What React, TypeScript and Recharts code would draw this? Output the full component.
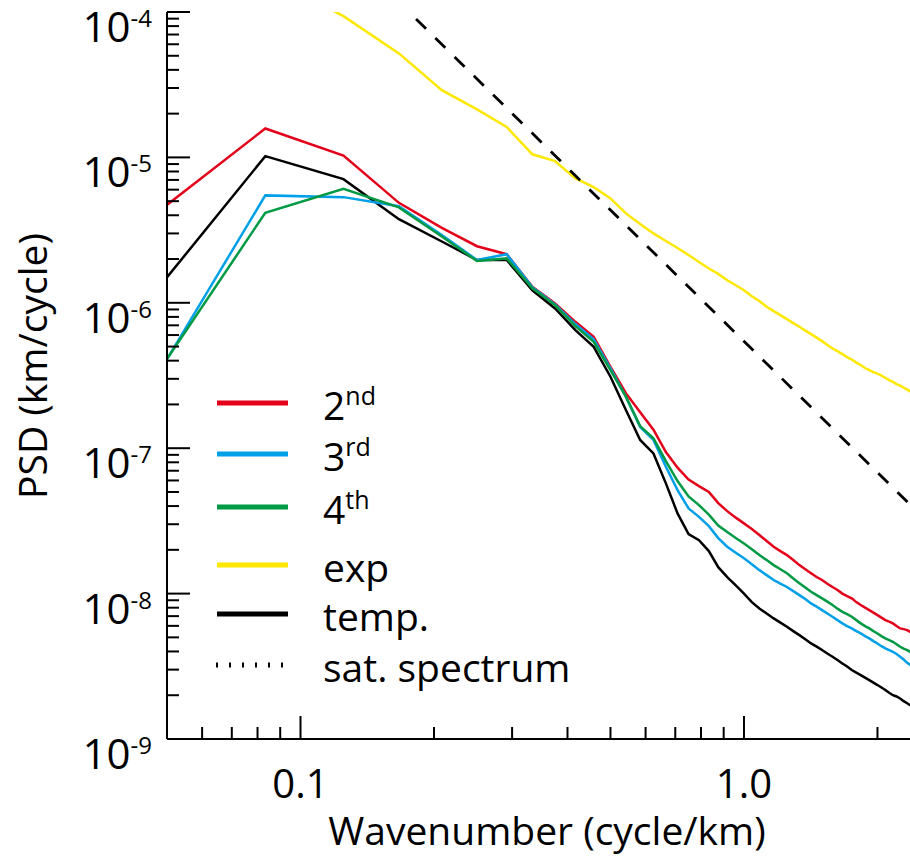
import { Label, Legend, Line, LineChart, XAxis, YAxis } from 'recharts'

// wavenumber grid (cycle/km)
const wavenumber = [
  0.0417, 0.0833, 0.125, 0.1667, 0.2083, 0.25, 0.2917, 0.3333, 0.375, 0.4167,
  0.4583, 0.5, 0.5417, 0.5833, 0.625, 0.6667, 0.7083, 0.75, 0.7917, 0.8333,
  0.875, 0.9167, 0.9583, 1.0, 1.0417, 1.0833, 1.125, 1.1667, 1.2083, 1.25,
  1.2917, 1.3333, 1.375, 1.4167, 1.4583, 1.5, 1.5417, 1.5833, 1.625, 1.6667,
  1.7083, 1.75, 1.7917, 1.8333, 1.875, 1.9167, 1.9583, 2.0, 2.0417, 2.0833,
  2.125, 2.1667, 2.2083, 2.25, 2.2917, 2.3333, 2.375, 2.4167, 2.4583, 2.5,
]

const psd2nd = [
  3.07e-6, 1.58e-5, 1.03e-5, 4.87e-6, 3.28e-6, 2.45e-6, 2.16e-6, 1.29e-6, 9.9e-7, 7.4e-7,
  5.84e-7, 3.63e-7, 2.39e-7, 1.77e-7, 1.34e-7, 9.4e-8, 7.35e-8, 6.08e-8, 5.49e-8, 5.01e-8,
  4.19e-8, 3.69e-8, 3.33e-8, 3.04e-8, 2.78e-8, 2.53e-8, 2.3e-8, 2.1e-8, 1.96e-8, 1.84e-8,
  1.7e-8, 1.57e-8, 1.47e-8, 1.38e-8, 1.3e-8, 1.24e-8, 1.17e-8, 1.11e-8, 1.06e-8, 1.0e-8,
  9.61e-9, 9.27e-9, 8.74e-9, 8.34e-9, 8.01e-9, 7.7e-9, 7.4e-9, 7.11e-9, 6.84e-9, 6.57e-9,
  6.42e-9, 6.24e-9, 5.98e-9, 5.76e-9, 5.7e-9, 5.61e-9, 5.44e-9, 5.26e-9, 5.1e-9, 4.94e-9,
]

const psd3rd = [
  1.63e-7, 5.48e-6, 5.33e-6, 4.62e-6, 2.92e-6, 1.97e-6, 2.16e-6, 1.28e-6, 9.75e-7, 7.14e-7,
  5.6e-7, 3.54e-7, 2.26e-7, 1.4e-7, 1.14e-7, 7.45e-8, 5.15e-8, 3.85e-8, 3.37e-8, 2.91e-8,
  2.41e-8, 2.1e-8, 1.91e-8, 1.75e-8, 1.59e-8, 1.45e-8, 1.34e-8, 1.24e-8, 1.17e-8, 1.11e-8,
  1.04e-8, 9.76e-9, 9.17e-9, 8.56e-9, 8.14e-9, 7.7e-9, 7.29e-9, 6.93e-9, 6.57e-9, 6.24e-9,
  5.98e-9, 5.76e-9, 5.52e-9, 5.32e-9, 5.1e-9, 4.92e-9, 4.71e-9, 4.54e-9, 4.35e-9, 4.2e-9,
  4.09e-9, 3.98e-9, 3.84e-9, 3.68e-9, 3.52e-9, 3.34e-9, 3.22e-9, 3.12e-9, 3.02e-9, 2.93e-9,
]

const psd4th = [
  1.8e-7, 4.16e-6, 6.08e-6, 4.53e-6, 2.86e-6, 1.94e-6, 2.02e-6, 1.26e-6, 9.64e-7, 6.91e-7,
  5.39e-7, 3.44e-7, 2.26e-7, 1.42e-7, 1.17e-7, 8.15e-8, 5.94e-8, 4.66e-8, 4.06e-8, 3.49e-8,
  2.94e-8, 2.65e-8, 2.41e-8, 2.21e-8, 2.02e-8, 1.84e-8, 1.7e-8, 1.57e-8, 1.47e-8, 1.38e-8,
  1.27e-8, 1.18e-8, 1.1e-8, 1.03e-8, 9.76e-9, 9.27e-9, 8.81e-9, 8.34e-9, 7.88e-9, 7.49e-9,
  7.23e-9, 6.93e-9, 6.57e-9, 6.24e-9, 5.98e-9, 5.76e-9, 5.52e-9, 5.32e-9, 5.1e-9, 4.92e-9,
  4.79e-9, 4.66e-9, 4.49e-9, 4.31e-9, 4.18e-9, 4.09e-9, 3.96e-9, 3.84e-9, 3.72e-9, 3.6e-9,
]

const psdExp = [
  3.66e-4, 1.79e-4, 9.37e-5, 5.19e-5, 2.9e-5, 2.14e-5, 1.62e-5, 1.05e-5, 9.43e-6, 7.17e-6,
  6.25e-6, 5.22e-6, 4.12e-6, 3.48e-6, 3.0e-6, 2.66e-6, 2.38e-6, 2.13e-6, 1.91e-6, 1.72e-6,
  1.58e-6, 1.43e-6, 1.32e-6, 1.22e-6, 1.11e-6, 1.03e-6, 9.39e-7, 8.77e-7, 8.23e-7, 7.72e-7,
  7.25e-7, 6.84e-7, 6.44e-7, 6.09e-7, 5.76e-7, 5.45e-7, 5.12e-7, 4.86e-7, 4.65e-7, 4.44e-7,
  4.23e-7, 4.07e-7, 3.88e-7, 3.73e-7, 3.56e-7, 3.44e-7, 3.34e-7, 3.26e-7, 3.16e-7, 3.05e-7,
  2.94e-7, 2.86e-7, 2.76e-7, 2.69e-7, 2.61e-7, 2.53e-7, 2.45e-7, 2.39e-7, 2.32e-7, 2.25e-7,
]

const psdTemp = [
  7.57e-7, 1.02e-5, 7.09e-6, 3.76e-6, 2.64e-6, 1.97e-6, 1.97e-6, 1.22e-6, 9.15e-7, 6.49e-7,
  4.98e-7, 3.1e-7, 1.83e-7, 1.14e-7, 9.21e-8, 5.73e-8, 3.56e-8, 2.57e-8, 2.33e-8, 1.96e-8,
  1.52e-8, 1.3e-8, 1.14e-8, 1.0e-8, 8.74e-9, 7.91e-9, 7.29e-9, 6.75e-9, 6.32e-9, 5.91e-9,
  5.52e-9, 5.18e-9, 4.86e-9, 4.54e-9, 4.32e-9, 4.09e-9, 3.87e-9, 3.68e-9, 3.49e-9, 3.31e-9,
  3.15e-9, 2.98e-9, 2.86e-9, 2.75e-9, 2.64e-9, 2.54e-9, 2.44e-9, 2.35e-9, 2.26e-9, 2.17e-9,
  2.08e-9, 2.0e-9, 1.96e-9, 1.9e-9, 1.82e-9, 1.76e-9, 1.7e-9, 1.64e-9, 1.59e-9, 1.54e-9,
]

// saturation spectrum (k^-3 reference line), two end points
const satWavenumber = [0.1, 2.6]
const satPsd = [5.4e-4, 3.1e-8]

const xMajorTicks = [0.1, 1]
const xTickLabels = ['0.1', '1.0']
const xMinorTicks = [0.06, 0.07, 0.08, 0.09, 0.2, 0.3, 0.4, 0.5, 0.6, 0.7, 0.8, 0.9, 2]
const yMajorTicks = [1e-9, 1e-8, 1e-7, 1e-6, 1e-5, 1e-4]
const yMinorMantissas = [2, 3, 4, 5, 6, 7, 8, 9]

const legendItems = [
  { base: '2', sup: 'nd', color: '#e3001b', dotted: false },
  { base: '3', sup: 'rd', color: '#00a0e9', dotted: false },
  { base: '4', sup: 'th', color: '#009a44', dotted: false },
  { base: 'exp', sup: '', color: '#ffe800', dotted: false },
  { base: 'temp.', sup: '', color: '#000000', dotted: false },
  { base: 'sat. spectrum', sup: '', color: '#000000', dotted: true },
]
const legendRows = [33, 84, 137, 195, 244, 295]

const FONT = "'Open Sans', 'DejaVu Sans', sans-serif"
const MAJOR_LEN = 23
const MINOR_LEN = 12

const rows = wavenumber.map((k, i) => ({
  k,
  second: psd2nd[i],
  third: psd3rd[i],
  fourth: psd4th[i],
  exp: psdExp[i],
  temp: psdTemp[i],
}))
const satRows = satWavenumber.map((k, i) => ({ k, sat: satPsd[i] }))

const xTicks = [...xMinorTicks, ...xMajorTicks].sort((a, b) => a - b)
const yTicks = [
  ...yMajorTicks,
  ...yMajorTicks.slice(0, -1).flatMap((d) => yMinorMantissas.map((m) => m * d)),
].sort((a, b) => a - b)

function isMajor(value: number): boolean {
  const l = Math.log10(value)
  return Math.abs(l - Math.round(l)) < 1e-6
}

type TickProps = { x: number; y: number; payload: { value: number } }

function BottomTick({ x, y, payload }: TickProps) {
  const major = isMajor(payload.value)
  const idx = xMajorTicks.findIndex((t) => Math.abs(t - payload.value) < 1e-9)
  return (
    <g>
      <line x1={x} x2={x} y1={y} y2={y - (major ? MAJOR_LEN : MINOR_LEN)} stroke="#000" strokeWidth={2} />
      {major && idx >= 0 ? (
        <text x={x} y={y + 59} textAnchor="middle" fontSize={40} fontFamily={FONT} fill="#000">
          {xTickLabels[idx]}
        </text>
      ) : null}
    </g>
  )
}

function TopTick({ x, y, payload }: TickProps) {
  const major = isMajor(payload.value)
  return <line x1={x} x2={x} y1={y} y2={y + (major ? MAJOR_LEN : MINOR_LEN)} stroke="#000" strokeWidth={2} />
}

function LeftTick({ x, y, payload }: TickProps) {
  const major = isMajor(payload.value)
  const exponent = Math.round(Math.log10(payload.value))
  return (
    <g>
      <line x1={x} x2={x + (major ? MAJOR_LEN : MINOR_LEN)} y1={y} y2={y} stroke="#000" strokeWidth={2} />
      {major ? (
        <text x={x - 15} y={y + 30} textAnchor="end" fontSize={42} fontFamily={FONT} fill="#000">
          10
          <tspan fontSize={24} dy={-15}>
            {exponent}
          </tspan>
        </text>
      ) : null}
    </g>
  )
}

function RightTick({ x, y, payload }: TickProps) {
  const major = isMajor(payload.value)
  return <line x1={x} x2={x - (major ? MAJOR_LEN : MINOR_LEN)} y1={y} y2={y} stroke="#000" strokeWidth={2} />
}

function XTitle() {
  return (
    <text x={547} y={845} textAnchor="middle" fontSize={39} fontFamily={FONT} fill="#000">
      Wavenumber (cycle/km)
    </text>
  )
}

function YTitle() {
  return (
    <text
      x={47}
      y={366}
      transform="rotate(-90 47 366)"
      textAnchor="middle"
      fontSize={39}
      fontFamily={FONT}
      fill="#000"
    >
      PSD (km/cycle)
    </text>
  )
}

function LegendBox() {
  return (
    <svg width={420} height={320} style={{ overflow: 'visible' }}>
      {legendItems.map((item, i) => {
        const ly = legendRows[i]
        return (
          <g key={item.base}>
            {item.dotted ? (
              <line x1={16} x2={84} y1={ly} y2={ly} stroke={item.color} strokeWidth={5} strokeDasharray="2 11" />
            ) : (
              <line x1={17} x2={88} y1={ly} y2={ly} stroke={item.color} strokeWidth={5} />
            )}
            <text x={123} y={ly + 17} fontSize={39} fontFamily={FONT} fill="#000">
              {item.base}
              {item.sup ? (
                <tspan fontSize={25} dy={-15}>
                  {item.sup}
                </tspan>
              ) : null}
            </text>
          </g>
        )
      })}
    </svg>
  )
}

const axisLine = { stroke: '#000', strokeWidth: 2 }

export default function App() {
  return (
    <div
      style={{
        position: 'absolute',
        left: 0,
        top: 0,
        width: 910,
        height: 856,
        overflow: 'hidden',
        background: '#fff',
      }}
    >
      <LineChart width={930} height={856} data={rows} margin={{ top: 12, right: 2, bottom: 0, left: 0 }}>
        <XAxis
          dataKey="k"
          type="number"
          scale="log"
          domain={[0.05, 2.6]}
          allowDataOverflow
          ticks={xTicks}
          interval={0}
          tickSize={0}
          tickMargin={0}
          tickLine={false}
          axisLine={axisLine}
          height={117}
          tick={BottomTick}
        >
          <Label content={XTitle} />
        </XAxis>
        <XAxis
          xAxisId="top"
          orientation="top"
          dataKey="k"
          type="number"
          scale="log"
          domain={[0.05, 2.6]}
          allowDataOverflow
          ticks={xTicks}
          interval={0}
          tickSize={0}
          tickMargin={0}
          tickLine={false}
          axisLine={axisLine}
          height={0}
          tick={TopTick}
        />
        <YAxis
          type="number"
          scale="log"
          domain={[1e-9, 1e-4]}
          allowDataOverflow
          ticks={yTicks}
          interval={0}
          tickSize={0}
          tickMargin={0}
          tickLine={false}
          axisLine={axisLine}
          width={167}
          tick={LeftTick}
        >
          <Label content={YTitle} />
        </YAxis>
        <YAxis
          yAxisId="right"
          orientation="right"
          type="number"
          scale="log"
          domain={[1e-9, 1e-4]}
          allowDataOverflow
          ticks={yTicks}
          interval={0}
          tickSize={0}
          tickMargin={0}
          tickLine={false}
          axisLine={axisLine}
          width={0}
          tick={RightTick}
        />
        <Legend
          layout="vertical"
          align="center"
          verticalAlign="middle"
          content={LegendBox}
          wrapperStyle={{ left: 200, top: 370, width: 420, height: 320 }}
        />
        <Line dataKey="temp" stroke="#000000" strokeWidth={2.5} dot={false} isAnimationActive={false} />
        <Line dataKey="second" stroke="#e3001b" strokeWidth={2.5} dot={false} isAnimationActive={false} />
        <Line dataKey="third" stroke="#00a0e9" strokeWidth={2.5} dot={false} isAnimationActive={false} />
        <Line dataKey="fourth" stroke="#009a44" strokeWidth={2.5} dot={false} isAnimationActive={false} />
        <Line dataKey="exp" stroke="#ffe800" strokeWidth={2.5} dot={false} isAnimationActive={false} />
        <Line
          data={satRows}
          dataKey="sat"
          stroke="#000000"
          strokeWidth={2.8}
          strokeDasharray="14 13"
          dot={false}
          isAnimationActive={false}
        />
      </LineChart>
    </div>
  )
}
